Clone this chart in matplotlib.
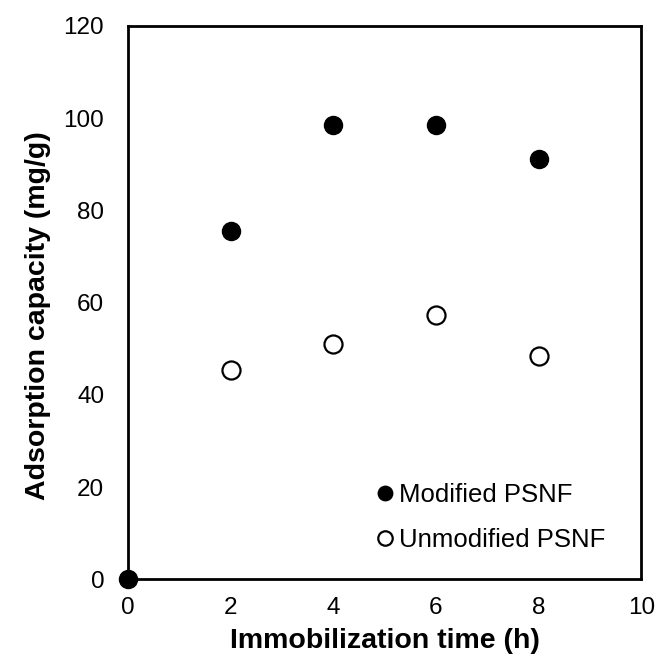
import matplotlib
matplotlib.use('Agg')
import matplotlib.pyplot as plt

plt.rcParams['font.family'] = ['Liberation Sans', 'DejaVu Sans']

time_h = [0, 2, 4, 6, 8]
modified = [0, 75.5, 98.5, 98.5, 91.1]
unmodified = [0, 45.4, 51.0, 57.3, 48.4]

fig = plt.figure(figsize=(6.59, 6.62), dpi=100)
ax = fig.add_axes([0.194, 0.125, 0.779, 0.836])

ax.plot(time_h[1:], unmodified[1:], 'o', color='black', markerfacecolor='white',
        markersize=13, markeredgewidth=1.6, label='Unmodified PSNF', clip_on=False, zorder=3)
ax.plot(time_h, modified, 'o', color='black', markersize=13,
        label='Modified PSNF', clip_on=False, zorder=4)

ax.set_xlim(0, 10)
ax.set_ylim(0, 120)
ax.set_xticks(range(0, 11, 2))
ax.set_yticks(range(0, 121, 20))
ax.tick_params(length=0, labelsize=17.5)
ax.tick_params(axis='x', pad=13)
ax.tick_params(axis='y', pad=17)
for s in ax.spines.values():
    s.set_linewidth(2)

ax.set_xlabel('Immobilization time (h)', fontsize=20.5, fontweight='bold', labelpad=6)
ax.set_ylabel('Adsorption capacity (mg/g)', fontsize=20.5, fontweight='bold',
              va='center')
ax.yaxis.set_label_coords(-0.175, 0.477)

h, l = ax.get_legend_handles_labels()
ax.legend(h[::-1], l[::-1], loc='lower right', bbox_to_anchor=(0.975, 0.007), frameon=False,
          fontsize=18.5, handletextpad=-0.2, labelspacing=0.83, markerscale=0.8,
          handlelength=1.5)

fig.savefig('out.png', dpi=100)
